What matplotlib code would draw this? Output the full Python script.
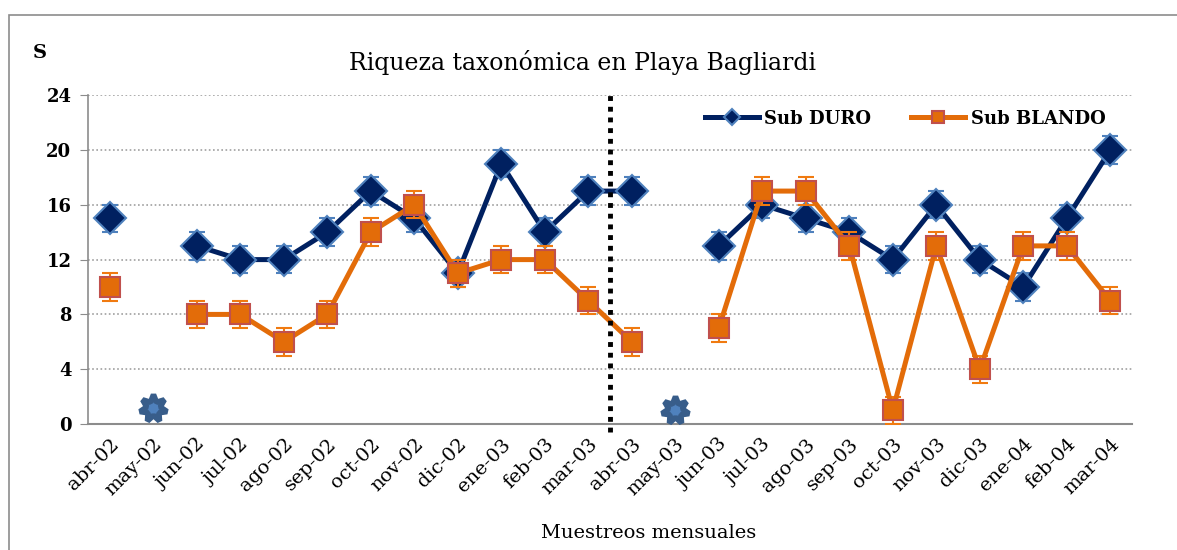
import numpy as np
import matplotlib.pyplot as plt
from matplotlib.patches import Rectangle
from matplotlib.lines import Line2D

meses = ["abr-02", "may-02", "jun-02", "jul-02", "ago-02", "sep-02", "oct-02",
         "nov-02", "dic-02", "ene-03", "feb-03", "mar-03", "abr-03", "may-03",
         "jun-03", "jul-03", "ago-03", "sep-03", "oct-03", "nov-03", "dic-03",
         "ene-04", "feb-04", "mar-04"]
nan = np.nan
duro = [15, nan, 13, 12, 12, 14, 17, 15, 11, 19, 14, 17, 17, nan,
        13, 16, 15, 14, 12, 16, 12, 10, 15, 20]
blando = [10, nan, 8, 8, 6, 8, 14, 16, 11, 12, 12, 9, 6, nan,
          7, 17, 17, 13, 1, 13, 4, 13, 13, 9]
error = 1
# meses sin muestreo (marcados con estrella)
sin_muestreo_x = ["may-02", "may-03"]
sin_muestreo_y = [1.2, 1.0]

x = np.arange(len(meses))
serif = ["DejaVu Serif"]

fig = plt.figure(figsize=(11.77, 5.5), dpi=100)
ax = fig.add_axes([0.0748, 0.229, 0.887, 0.598])

# marco exterior
fig.patches.append(Rectangle((9 / 1177, -0.1), 1.2, 1 - 15 / 550 + 0.1,
                             transform=fig.transFigure, fill=False,
                             edgecolor="#8c8c8c", linewidth=1.2))

ax.errorbar(x, duro, yerr=error, color="#002060", linewidth=3.6, marker="D",
            markersize=16, markerfacecolor="#002060", markeredgecolor="#4F81BD",
            markeredgewidth=1.5, ecolor="#4F81BD", elinewidth=1.5, capsize=6,
            capthick=1.5, zorder=3)
ax.errorbar(x, blando, yerr=error, color="#E36C09", linewidth=3.6, marker="s",
            markersize=14, markerfacecolor="#E36C09", markeredgecolor="#C0504D",
            markeredgewidth=1.5, ecolor="#F07A10", elinewidth=1.5, capsize=6,
            capthick=1.5, zorder=4)

sx = [meses.index(m) for m in sin_muestreo_x]
ax.plot(sx, sin_muestreo_y, linestyle="none", marker=(7, 1, 0), markersize=20,
        markerfacecolor="#4F81BD", markeredgecolor="#385D8A",
        markeredgewidth=4, zorder=5)

ax.plot([11.5, 11.5], [-0.6, 24], color="black", linestyle=(0, (1, 1.2)),
        linewidth=3.5, clip_on=False, zorder=6)

ax.set_xlim(-0.5, len(meses) - 0.5)
ax.set_ylim(0, 24)
ax.set_yticks(range(0, 25, 4))
ax.set_xticks(x)
ax.set_xticklabels(meses, rotation=45, ha="right", rotation_mode="anchor",
                   family=serif, fontsize=14)
for lab in ax.get_yticklabels():
    lab.set_family(serif)
    lab.set_fontweight("bold")
    lab.set_fontsize(13)

ax.grid(axis="y", color="#a0a0a0", linestyle=(0, (1, 1.5)), linewidth=1.2)
ax.set_axisbelow(True)
for s in ["top", "right"]:
    ax.spines[s].set_visible(False)
ax.spines["left"].set_color("#8c8c8c")
ax.spines["bottom"].set_color("#8c8c8c")
ax.spines["left"].set_linewidth(1.2)
ax.spines["bottom"].set_linewidth(1.5)
ax.tick_params(axis="y", length=6, color="#8c8c8c", pad=6)
ax.tick_params(axis="x", length=0, pad=8)

fig.text(0.495, 0.887, "Riqueza taxonómica en Playa Bagliardi", ha="center",
         va="center", family=serif, fontsize=17)
fig.text(0.034, 0.903, "S", ha="center", va="center", family=serif,
         fontsize=14, fontweight="bold")
fig.text(0.551, 0.03, "Muestreos mensuales", ha="center", va="center",
         family=serif, fontsize=14)

handles = [
    Line2D([], [], color="#002060", linewidth=3.6, marker="D", markersize=8,
           markerfacecolor="#002060", markeredgecolor="#4F81BD",
           markeredgewidth=1.5),
    Line2D([], [], color="#E36C09", linewidth=3.6, marker="s", markersize=9,
           markerfacecolor="#E36C09", markeredgecolor="#C0504D",
           markeredgewidth=1.5),
]
ax.legend(handles, ["Sub DURO", "Sub BLANDO"], loc="upper right",
          bbox_to_anchor=(0.99, 1.005), ncol=2, frameon=False,
          handlelength=3, columnspacing=2.2, handletextpad=0.3,
          prop={"family": serif, "weight": "bold", "size": 13})

fig.savefig("out.png", dpi=100)
